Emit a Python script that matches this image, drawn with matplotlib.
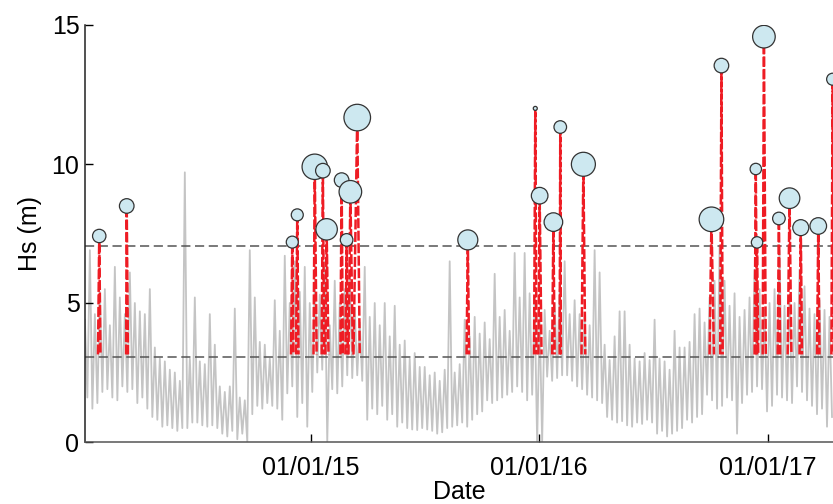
import numpy as np
import pandas as pd
import matplotlib
matplotlib.use("Agg")
import matplotlib.pyplot as plt
import matplotlib.dates as mdates

series_start = "2014-01-04"
series_step_days = 8
hs_high = [4.4, 6.9, 4.6, 5.4, 5.5, 4.2, 6.3, 5.2, 4.6, 6.1,
           5.0, 4.7, 4.6, 5.5, 3.4, 3.0, 2.9, 2.6, 2.5, 2.2,
           9.7, 3.0, 5.2, 2.9, 2.8, 4.6, 3.5, 2.0, 1.8, 2.0,
           4.8, 1.6, 1.5, 6.9, 5.2, 3.6, 3.5, 3.0, 5.1, 4.0,
           6.7, 5.0, 6.5, 5.4, 6.3, 5.0, 5.8, 5.3, 6.5, 4.2,
           5.8, 5.0, 5.5, 6.0, 4.8, 4.3, 6.3, 4.5, 5.0, 4.2,
           5.0, 3.8, 4.9, 3.5, 3.65, 3.0, 3.2, 2.7, 2.7, 2.4,
           2.5, 2.2, 2.6, 6.5, 2.5, 2.8, 4.4, 3.8, 4.5, 3.9,
           4.3, 3.7, 6.05, 4.5, 4.75, 4.0, 6.8, 5.2, 6.8, 5.35,
           5.0, 4.5, 4.75, 4.0, 5.0, 5.5, 6.5, 4.6, 5.1, 4.6,
           4.6, 4.2, 6.9, 6.1, 3.5, 2.95, 3.8, 4.7, 4.7, 3.5,
           3.0, 2.9, 3.2, 2.95, 4.4, 3.0, 2.9, 2.6, 4.0, 3.4,
           3.4, 3.6, 4.6, 4.8, 4.3, 5.2, 5.8, 7.0, 5.8, 4.9,
           5.35, 4.5, 4.75, 5.2, 6.2, 5.5, 4.75, 5.0, 5.5, 6.9,
           4.9, 5.2, 5.0, 6.2, 5.6, 4.8, 4.6, 5.1, 4.75, 4.5]
hs_low = [1.6, 1.2, 1.4, 1.8, 1.9, 1.6, 1.5, 2.0, 1.8, 1.9,
          1.4, 1.6, 1.2, 0.9, 0.8, 0.55, 0.6, 0.5, 0.4, 0.5,
          0.5, 0.7, 0.7, 0.6, 0.55, 0.6, 0.5, 0.3, 0.2, 0.4,
          0.1, 0.3, 0.0, 1.0, 1.3, 1.2, 1.4, 1.3, 1.2, 0.8,
          1.75, 2.0, 0.9, 1.4, 0.55, 1.8, 2.5, 2.6, 0.0, 1.9,
          1.75, 2.0, 2.4, 2.3, 2.4, 2.2, 0.8, 1.2, 1.0, 1.3,
          0.8, 1.0, 0.55, 0.7, 0.5, 0.45, 0.43, 0.5, 0.45, 0.4,
          0.3, 0.35, 0.5, 0.55, 0.6, 0.7, 0.55, 0.8, 1.0, 1.1,
          1.5, 1.4, 1.5, 1.6, 1.7, 1.8, 2.0, 1.8, 1.5, 1.7,
          0.0, 0.0, 2.35, 2.2, 2.3, 2.4, 2.4, 2.2, 2.0, 1.9,
          1.7, 1.6, 1.5, 1.4, 0.9, 0.8, 0.7, 0.75, 0.6, 0.55,
          0.7, 0.65, 0.8, 0.7, 0.3, 0.4, 0.2, 0.3, 0.4, 0.5,
          0.8, 0.7, 0.9, 1.0, 1.7, 1.5, 1.2, 1.3, 1.6, 1.5,
          0.3, 1.4, 1.7, 1.8, 2.0, 1.9, 1.1, 1.3, 1.7, 1.6,
          1.5, 1.4, 2.0, 1.8, 1.5, 1.3, 1.0, 1.2, 0.55, 0.9]

# Storm events: start, peak, end, peak Hs and relative strength (circle size)
storm_start = ["2014-01-25", "2014-03-11", "2014-11-30", "2014-12-08", "2015-01-05",
               "2015-01-18", "2015-01-24", "2015-02-17", "2015-02-25", "2015-03-02",
               "2015-03-10", "2015-09-07", "2015-12-24", "2015-12-31", "2016-01-22",
               "2016-02-03", "2016-03-09", "2016-09-30", "2016-10-17", "2016-12-11",
               "2016-12-13", "2016-12-24", "2017-01-17", "2017-02-02", "2017-02-21",
               "2017-03-21", "2017-04-13"]
storm_peak = ["2014-01-27", "2014-03-12", "2014-12-02", "2014-12-10", "2015-01-07",
              "2015-01-20", "2015-01-26", "2015-02-19", "2015-02-27", "2015-03-05",
              "2015-03-16", "2015-09-09", "2015-12-26", "2016-01-02", "2016-01-24",
              "2016-02-04", "2016-03-12", "2016-10-03", "2016-10-19", "2016-12-13",
              "2016-12-15", "2016-12-26", "2017-01-19", "2017-02-05", "2017-02-23",
              "2017-03-23", "2017-04-15"]
storm_end = ["2014-01-29", "2014-03-14", "2014-12-04", "2014-12-12", "2015-01-10",
             "2015-01-22", "2015-01-29", "2015-02-21", "2015-03-01", "2015-03-09",
             "2015-03-20", "2015-09-11", "2015-12-28", "2016-01-05", "2016-01-26",
             "2016-02-05", "2016-03-15", "2016-10-07", "2016-10-21", "2016-12-15",
             "2016-12-17", "2016-12-29", "2017-01-21", "2017-02-08", "2017-02-25",
             "2017-03-25", "2017-04-17"]
storm_hs = [7.41, 8.49, 7.19, 8.17, 9.90, 9.76, 7.65, 9.42, 7.27, 9.00,
            11.67, 7.27, 12.0, 8.86, 7.91, 11.33, 9.99, 8.01, 13.54, 9.82,
            7.18, 14.58, 8.04, 8.77, 7.71, 7.77, 13.05]
storm_strength = [6.7, 7.3, 6.0, 6.0, 12.7, 7.3, 10.7, 7.3, 6.3, 11.3,
                  13.3, 10.0, 2.0, 8.3, 9.3, 6.3, 12.0, 12.3, 7.3, 5.7,
                  5.7, 11.3, 6.3, 10.3, 8.0, 8.3, 6.0]

storm_base = 3.15      # where the storm traces leave the lower threshold
thresholds = [3.05, 7.05]
tick_dates = ["2015-01-01", "2016-01-01", "2017-01-01"]

plt.rcParams['font.family'] = ['Liberation Sans', 'DejaVu Sans']

fig = plt.figure(figsize=(8.33, 5.04), dpi=100)
ax = fig.add_axes([85 / 833, 62 / 504, 748 / 833, 417 / 504])

# Interleave the envelopes so the line zig-zags like the dense raw record
t0 = pd.date_range(series_start, periods=len(hs_high), freq=f"{series_step_days}D")
t1 = t0 + pd.Timedelta(days=series_step_days / 2)
t_all = np.empty(2 * len(t0), dtype="datetime64[ns]")
t_all[0::2] = t0.values
t_all[1::2] = t1.values
hs_all = np.empty(2 * len(t0))
hs_all[0::2] = hs_high
hs_all[1::2] = hs_low
ax.plot(t_all, hs_all, color='#c4c4c4', lw=1.3, zorder=1)

for th in thresholds:
    ax.axhline(th, color='#555555', lw=1.1, ls=(0, (6, 3)), zorder=2)

# Storm traces: up to the peak and back down
for s, p, e, h in zip(storm_start, storm_peak, storm_end, storm_hs):
    ts = pd.to_datetime([s, p, e])
    ax.plot(ts, [storm_base, h, storm_base], color='#ee1c24', lw=1.8,
            ls=(0, (4, 1)), zorder=3)

# Circles at the peaks, area scaled by strength
sizes = (2 * np.array(storm_strength) * 0.72) ** 2
ax.scatter(pd.to_datetime(storm_peak), storm_hs, s=sizes, c='#cde8f0',
           edgecolors='#333333', linewidths=0.9, zorder=4)

ax.set_xlim(pd.Timestamp("2014-01-04 05:00"), pd.Timestamp("2017-04-15 14:00"))
ax.set_ylim(0, 15)
ax.set_yticks([0, 5, 10, 15])
ax.set_xticks(pd.to_datetime(tick_dates))
ax.xaxis.set_major_formatter(mdates.DateFormatter('%m/%d/%y'))

ax.spines['top'].set_visible(False)
ax.spines['right'].set_visible(False)
ax.spines['left'].set_color('#222222')
ax.spines['bottom'].set_color('#555555')
ax.spines['left'].set_linewidth(1.1)
ax.spines['bottom'].set_linewidth(1.1)
ax.tick_params(direction='in', length=6, width=1, labelsize=18)
ax.tick_params(axis='y', pad=4)
ax.tick_params(axis='x', pad=10)

ax.set_xlabel("Date", fontsize=18, labelpad=0)
ax.set_ylabel("Hs (m)", fontsize=18, labelpad=7)

fig.savefig("out.png", dpi=100)
